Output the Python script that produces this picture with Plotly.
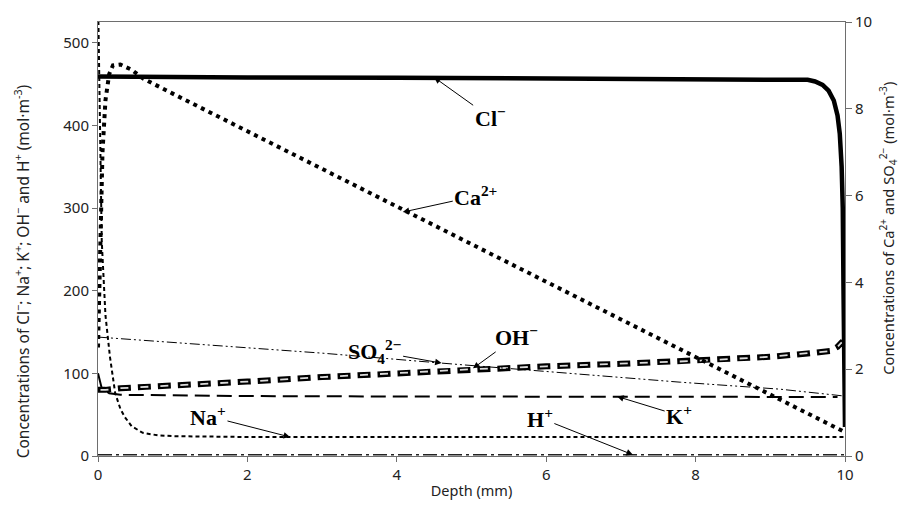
import plotly.graph_objects as go

# ---------------- data ----------------
cl_depth = [0, 0.02, 1, 2, 4, 6, 8, 9, 9.5, 9.6, 9.7, 9.78, 9.85, 9.9, 9.93, 9.955, 9.97, 9.98, 9.99, 10]
cl_conc = [459, 459, 458.5, 458, 457.5, 457, 456.5, 456, 455, 453, 449, 442, 430, 412, 390, 350, 300, 200, 110, 35]

na_depth = [0, 0.02, 0.05, 0.1, 0.16, 0.23, 0.3, 0.36, 0.45, 0.6, 0.8, 1.0, 2, 4, 6, 8, 10]
na_conc = [560, 450, 260, 170, 120, 76, 57, 47, 36, 28, 25, 24, 23, 23, 23, 23, 23]

k_depth = [0, 0.05, 0.15, 0.3, 1, 2, 4, 6, 8, 9.9]
k_conc = [100, 82, 76, 74, 73.5, 72.5, 72, 71.8, 71.5, 71.4]

oh_depth = [0, 0.1, 0.3, 1, 2, 3, 4, 5, 6, 7, 8, 9, 9.5, 9.8, 9.9, 9.95, 10]
oh_conc = [80, 80, 82, 85, 90, 95.5, 100, 105, 108.5, 111.5, 115, 120, 124, 127, 132, 137, 135]

h_depth = [0, 2, 4, 6, 8, 10]
h_conc = [1.5, 1.5, 1.5, 1.5, 1.5, 1.5]

ca_depth = [0, 0.03, 0.06, 0.1, 0.15, 0.2, 0.3, 0.45, 0.6, 1, 2, 4, 6, 8, 9, 9.5, 10]
ca_conc = [2.5, 5.0, 7.0, 8.2, 8.8, 9.0, 9.02, 8.9, 8.7, 8.35, 7.48, 5.75, 4.02, 2.28, 1.41, 0.98, 0.55]

so4_depth = [0, 3, 4.6, 7.8, 9.13, 9.93, 10]
so4_conc = [2.74, 2.37, 2.14, 1.70, 1.54, 1.40, 1.38]

x_ticks = [0, 2, 4, 6, 8, 10]
y_left_ticks = [0, 100, 200, 300, 400, 500]
y_right_ticks = [0, 2, 4, 6, 8, 10]

left_title = ("Concentrations of Cl<sup>−</sup>; Na<sup>+</sup>; K<sup>+</sup>; "
              "OH<sup>−</sup> and H<sup>+</sup> (mol·m<sup>-3</sup>)")
right_title = ("Concentrations of Ca<sup>2+</sup> and SO<sub>4</sub><sup>2−</sup> "
               "(mol·m<sup>-3</sup>)")

# ---------------- figure ----------------
fig = go.Figure()

fig.add_trace(go.Scatter(x=h_depth, y=h_conc, mode="lines", name="H+",
                         line=dict(color="#222", width=1.5, dash="14px,4px,3px,4px")))
fig.add_trace(go.Scatter(x=na_depth, y=na_conc, mode="lines", name="Na+",
                         line=dict(color="black", width=2, dash="4px,3px")))
fig.add_trace(go.Scatter(x=k_depth, y=k_conc, mode="lines", name="K+",
                         line=dict(color="black", width=2, dash="15px,7px")))
fig.add_trace(go.Scatter(x=oh_depth, y=oh_conc, mode="lines", name="OH-",
                         line=dict(color="black", width=6, dash="13px,7px")))
fig.add_trace(go.Scatter(x=oh_depth, y=oh_conc, mode="lines", name="OH- inner", showlegend=False,
                         line=dict(color="#dcdcdc", width=1.8, dash="0px,2.5px,8px,9.5px")))
fig.add_trace(go.Scatter(x=so4_depth, y=so4_conc, mode="lines", name="SO4", yaxis="y2",
                         line=dict(color="black", width=1, dash="10px,3px,2px,3px,2px,3px")))
fig.add_trace(go.Scatter(x=ca_depth, y=ca_conc, mode="lines", name="Ca2+", yaxis="y2",
                         line=dict(color="black", width=4, dash="4px,4.5px")))
fig.add_trace(go.Scatter(x=cl_depth, y=cl_conc, mode="lines", name="Cl-",
                         line=dict(color="black", width=4.5)))

lab_font = dict(family="Liberation Serif", size=22, color="black")


def label(text, x, y, ax, ay, yref="y"):
    fig.add_annotation(x=x, y=y, xref="x", yref=yref, text="<b>" + text + "</b>",
                       showarrow=True, ax=ax, ay=ay, arrowhead=2, arrowsize=1.3,
                       arrowwidth=1, arrowcolor="black", font=lab_font)


label("Cl<sup>−</sup>", 4.5, 458, 56, 40)
label("Ca<sup>2+</sup>", 4.08, 5.62, 73, -16, yref="y2")
label("SO<sub>4</sub><sup>2−</sup>", 4.6, 2.14, -67, -12, yref="y2")
label("OH<sup>−</sup>", 5.02, 106, 44, -32)
label("Na<sup>+</sup>", 2.57, 23, -82, -21)
label("K<sup>+</sup>", 6.95, 72, 62, 19)
label("H<sup>+</sup>", 7.16, 1.5, -93, -37)

# axis titles placed as rotated annotations to match the reference's position
fig.add_annotation(text=left_title, xref="paper", yref="paper", x=-0.102, y=0.425,
                   textangle=-90, showarrow=False, xanchor="center", yanchor="middle",
                   font=dict(family="Noto Sans", size=15.5, color="#222"))
fig.add_annotation(text=right_title, xref="paper", yref="paper", x=1.057, y=0.525,
                   textangle=-90, showarrow=False, xanchor="center", yanchor="middle",
                   font=dict(family="Noto Sans", size=14.7, color="#222"))

tick_font = dict(family="Noto Sans", size=15, color="#222")
axis_line = "#6e6e6e"

fig.update_layout(
    width=899, height=503,
    margin=dict(l=90, r=62, t=14, b=55, autoexpand=False),
    paper_bgcolor="white", plot_bgcolor="white",
    showlegend=False,
    xaxis=dict(range=[0, 10], tickvals=x_ticks, showgrid=False, zeroline=False, automargin=False,
               showline=True, linecolor=axis_line, linewidth=1, mirror=True,
               ticks="outside", ticklen=5, tickcolor=axis_line, tickfont=tick_font,
               title=dict(text="Depth (mm)", font=dict(family="Noto Sans", size=14.5, color="#222"),
                          standoff=2)),
    yaxis=dict(range=[0, 525], tickvals=y_left_ticks, showgrid=False, zeroline=False, automargin=False,
               showline=True, linecolor=axis_line, linewidth=1,
               ticks="outside", ticklen=5, tickcolor=axis_line, tickfont=tick_font),
    yaxis2=dict(range=[0, 10], tickvals=y_right_ticks, overlaying="y", side="right", automargin=False,
                showgrid=False, zeroline=False, showline=True, linecolor=axis_line, linewidth=1,
                ticks="outside", ticklen=6, tickcolor=axis_line, tickfont=tick_font),
)

fig.write_html("out.html")
